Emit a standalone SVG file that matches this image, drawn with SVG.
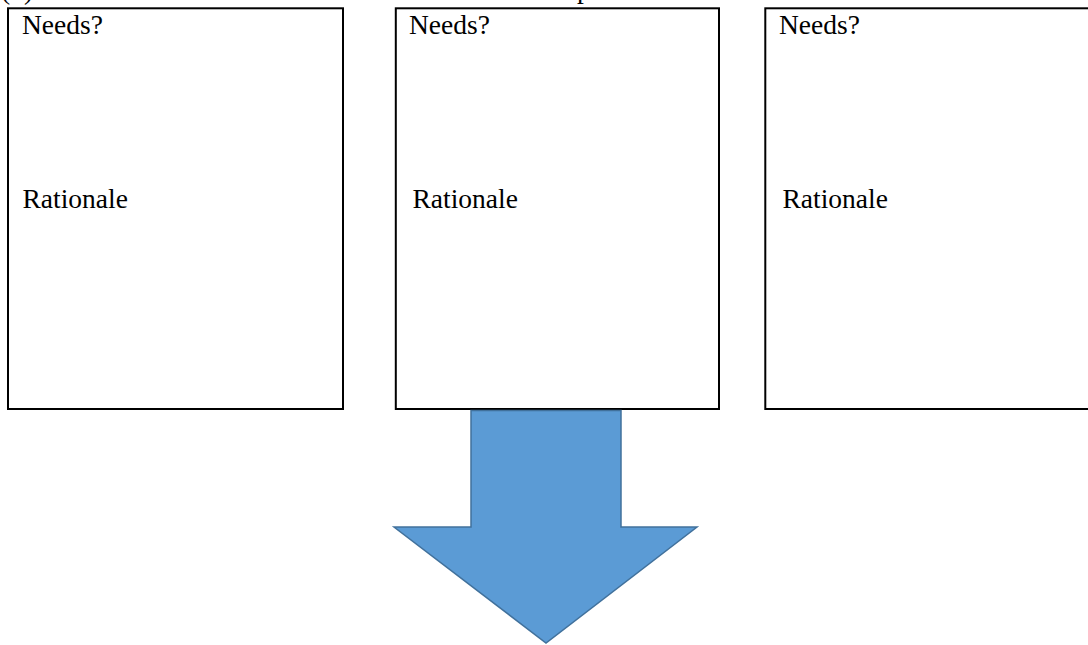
<svg xmlns="http://www.w3.org/2000/svg" width="1088" height="645" viewBox="0 0 1088 645">
<style>
.box{fill:#fff;stroke:#000;stroke-width:2}
text{font-family:'Liberation Serif','Times New Roman',Times,serif;font-size:27.5px;fill:#000}
.arrow{fill:#5B9BD5;stroke:#41719C;stroke-width:1.5}
</style>
<rect width="1088" height="645" fill="#fff"/>
<text font-family="Liberation Serif, serif" x="1" y="-1" font-size="18">(1)</text>
<text font-family="Liberation Serif, serif" x="577" y="-2">p</text>
<g id="node1">
<rect class="box" x="8" y="8.3" width="335" height="400.7"/>
<text font-family="Liberation Serif, serif" x="22" y="34">Needs?</text>
<text font-family="Liberation Serif, serif" x="22.5" y="208">Rationale</text>
</g>
<g id="node2">
<rect class="box" x="395.8" y="8.3" width="323.2" height="400.7"/>
<text font-family="Liberation Serif, serif" x="409" y="34">Needs?</text>
<text font-family="Liberation Serif, serif" x="412.5" y="208">Rationale</text>
</g>
<g id="node3">
<rect class="box" x="765.3" y="8.3" width="326" height="400.7"/>
<text font-family="Liberation Serif, serif" x="779" y="34">Needs?</text>
<text font-family="Liberation Serif, serif" x="782.5" y="208">Rationale</text>
</g>
<g id="connectors">
<polygon class="arrow" points="471,410.5 621,410.5 621,527 697,527 546,643 394,527 471,527"/>
</g>
</svg>
